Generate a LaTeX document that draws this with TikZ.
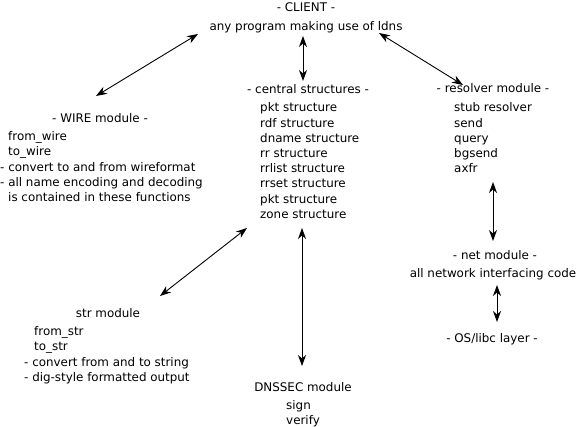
\documentclass[tikz,border=0pt]{standalone}
\usepackage{fontspec}
\setmainfont{DejaVu Sans}
\usetikzlibrary{arrows.meta}
\begin{document}
\begin{tikzpicture}[x=1pt,y=-1pt,
  lbl/.style={inner sep=0pt, anchor=base west, font=\fontsize{11.9}{14}\selectfont},
  clbl/.style={lbl, anchor=base},
  link/.style={line width=0.9pt, {Stealth[length=11pt,width=8pt,inset=3.5pt]}-{Stealth[length=11pt,width=8pt,inset=3.5pt]}}]
\useasboundingbox (0,0) rectangle (577,427);
% client
\node[clbl] (client) at (306,12) {- CLIENT -};
\node[clbl] (any) at (306,31) {any program making use of ldns};
% central structures
\node[clbl] (cst) at (308,94) {- central structures -};
\foreach \t [count=\i from 0] in {pkt structure, rdf structure, dname structure, rr structure, rrlist structure, rrset structure, pkt structure, zone structure}
  \node[lbl] (c\i) at (260,{112+15.2*\i}) {\t};
% resolver
\node[clbl] (res) at (493,93) {- resolver module -};
\foreach \t [count=\i from 0] in {stub resolver, send, query, bgsend, axfr}
  \node[lbl] (r\i) at (454,{112+15.2*\i}) {\t};
% net
\node[clbl] (net) at (495,259) {- net module -};
\node[clbl] (netd) at (493,277) {all network interfacing code};
\node[clbl] (os) at (492,342) {- OS/libc layer -};
% wire
\node[clbl] (wire) at (100,123) {- WIRE module -};
\node[lbl] (w0) at (8,140.5) {from\_wire};
\node[lbl] (w1) at (8,155.8) {to\_wire};
\node[lbl] (w2) at (0,171.1) {- convert to and from wireformat};
\node[lbl] (w3) at (0,186.4) {- all name encoding and decoding};
\node[lbl] (w4) at (8,201.7) {is contained in these functions};
% str
\node[clbl] (str) at (108,317) {str module};
\node[lbl] (s0) at (34,335) {from\_str};
\node[lbl] (s1) at (34,350) {to\_str};
\node[lbl] (s2) at (24,366) {- convert from and to string};
\node[lbl] (s3) at (24,381) {- dig-style formatted output};
% dnssec
\node[clbl] (dnssec) at (303,391) {DNSSEC module};
\node[lbl] (d0) at (286,409) {sign};
\node[lbl] (d1) at (286,424) {verify};
% arrow end points
\coordinate (aw1) at (96,96);   \coordinate (aw2) at (198,34);
\coordinate (ac1) at (303,36);  \coordinate (ac2) at (303,81);
\coordinate (ar1) at (379,33);  \coordinate (ar2) at (463,85);
\coordinate (as1) at (160,296); \coordinate (as2) at (247,228);
\coordinate (ad1) at (302,228); \coordinate (ad2) at (302,366);
\coordinate (an1) at (493,182); \coordinate (an2) at (493,241);
\coordinate (ao1) at (497,285); \coordinate (ao2) at (497,322);
\draw[link] (aw1) -- (aw2);
\draw[link] (ac1) -- (ac2);
\draw[link] (ar1) -- (ar2);
\draw[link] (as1) -- (as2);
\draw[link] (ad1) -- (ad2);
\draw[link] (an1) -- (an2);
\draw[link] (ao1) -- (ao2);
\end{tikzpicture}
\end{document}
